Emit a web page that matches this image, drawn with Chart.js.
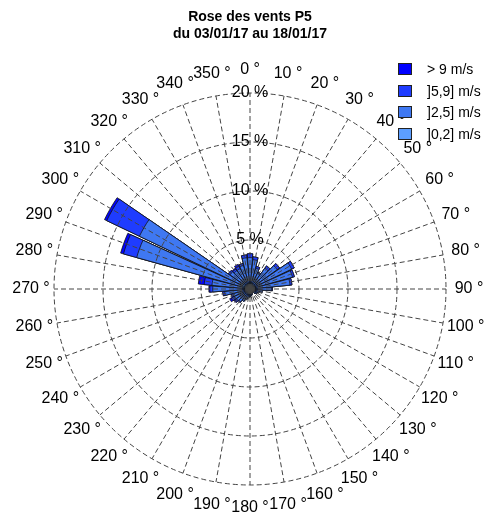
<!DOCTYPE html>
<html>
<head>
<meta charset="utf-8">
<script src="https://cdn.jsdelivr.net/npm/chart.js@4.4.1/dist/chart.umd.min.js"></script>
<style>
  html, body { margin: 0; padding: 0; background: #fff; }
  #wrap { position: relative; width: 490px; height: 515px; font-family: "Liberation Sans", Arial, sans-serif; }
  #rose { position: absolute; left: 0; top: 0; }
  .title { position: absolute; left: 5px; top: 8px; width: 490px; text-align: center; font-weight: bold; font-size: 14px; line-height: 17px; }
  .leg { position: absolute; left: 398px; height: 14px; font-size: 14px; line-height: 14px; white-space: nowrap; }
  .leg span.box { position: absolute; left: 0; top: 1px; width: 14px; height: 12px; box-sizing: border-box; border: 1px solid #222; }
  .leg span.txt { position: absolute; left: 29px; top: 0; }
</style>
</head>
<body>
<div id="wrap">
  <canvas id="rose" width="490" height="515"></canvas>
  <div class="title">Rose des vents P5<br>du 03/01/17 au 18/01/17</div>
  <div id="legend"></div>
</div>
<script>
(() => {
  'use strict';

  // directions (degrees) and their labels
  const directions = [0, 10, 20, 30, 40, 50, 60, 70, 80, 90, 100, 110, 120, 130, 140, 150, 160, 170,
    180, 190, 200, 210, 220, 230, 240, 250, 260, 270, 280, 290, 300, 310, 320, 330, 340, 350];
  const dirLabels = directions.map(d => d + ' °');

  // frequency (%) per direction for each speed class
  const v0to2 = [0.6, 0.6, 0.6, 0.5, 0.5, 0.5, 0.5, 0.5, 0.5, 0.4, 0.4, 0.4, 0.3, 0.3, 0.3, 0.3, 0.3, 0.3,
    0.3, 0.3, 0.3, 0.4, 0.4, 0.4, 0.4, 0.4, 0.4, 0.5, 0.5, 0.8, 1.0, 0.5, 0.5, 0.5, 0.5, 0.6];
  const v2to5 = [2.6, 2.4, 1.6, 1.3, 2.1, 2.9, 4.2, 4.0, 3.6, 1.8, 0.9, 0.6, 0.5, 0.4, 0.2, 0.2, 0.3, 0.4,
    0.5, 0.6, 0.8, 1.0, 1.2, 1.3, 1.4, 1.4, 2.2, 3.3, 3.4, 11.2, 11.5, 2.0, 1.8, 1.8, 2.0, 2.6];
  const v5to9 = [0.4, 0.3, 0.2, 0.1, 0.3, 0.3, 0.3, 0.2, 0.2, 0.1, 0, 0, 0, 0, 0, 0, 0, 0,
    0, 0, 0, 0, 0.1, 0.2, 0.3, 0.2, 0.2, 0.3, 0.8, 1.4, 3.7, 0.2, 0.2, 0.3, 0.2, 0.3];
  const vOver9 = [0, 0, 0, 0, 0, 0, 0, 0, 0, 0, 0, 0, 0, 0, 0, 0, 0, 0,
    0, 0, 0, 0, 0, 0.1, 0.2, 0, 0, 0.1, 0.6, 0.3, 0.25, 0, 0.1, 0.2, 0, 0];

  const classNames = ['> 9 m/s', ']5,9] m/s', ']2,5] m/s', ']0,2] m/s'];
  const classColors = ['#0000ff', '#1f3cff', '#3f78f2', '#5c9eff'];
  const pctTicks = [5, 10, 15, 20];

  const barWidth = 9; // degrees of each sector bar
  const gapWidth = 10 - barWidth;

  // stacked: cumulative totals, smallest first so it is drawn on top
  const cum1 = v0to2.slice();
  const cum2 = cum1.map((v, i) => v + v2to5[i]);
  const cum3 = cum2.map((v, i) => v + v5to9[i]);
  const cum4 = cum3.map((v, i) => v + vOver9[i]);

  // one lead gap, then bar / gap / bar ... so each bar is centred on its direction
  function withGaps(values) {
    const out = [0];
    values.forEach((v, i) => {
      if (i > 0) out.push(0);
      out.push(v);
    });
    return out;
  }
  const sectorAngle = (ctx) => {
    if (ctx.dataIndex === 0) return 360 - barWidth / 2;
    return ctx.dataIndex % 2 ? barWidth : gapWidth;
  };

  function layer(values, color) {
    return {
      data: withGaps(values),
      angle: sectorAngle,
      backgroundColor: (ctx) => ctx.dataIndex % 2 ? color : 'rgba(0,0,0,0)',
      borderColor: '#111',
      borderWidth: (ctx) => ctx.dataIndex % 2 ? 0.8 : 0
    };
  }

  // legend
  const legend = document.getElementById('legend');
  classNames.forEach((name, i) => {
    const row = document.createElement('div');
    row.className = 'leg';
    row.style.top = (62 + i * 21.5) + 'px';
    row.innerHTML = '<span class="box" style="background:' + classColors[i] + '"></span><span class="txt">' + name + '</span>';
    legend.appendChild(row);
  });

  const degreeLabels = {
    id: 'degreeLabels',
    afterDraw(chart) {
      const r = chart.scales.r;
      const c = chart.ctx;
      c.save();
      c.font = '16px "Liberation Sans", Arial, sans-serif';
      c.fillStyle = '#000';
      c.textAlign = 'center';
      c.textBaseline = 'middle';
      dirLabels.forEach((lab, i) => {
        const p = r.getPointPosition(i, r.drawingArea + 23);
        c.fillText(lab, p.x, p.y);
      });
      c.restore();
    }
  };

  const ctx = document.getElementById('rose');
  new Chart(ctx, {
    type: 'polarArea',
    data: {
      labels: dirLabels,
      datasets: [
        layer(cum1, classColors[3]),
        layer(cum2, classColors[2]),
        layer(cum3, classColors[1]),
        layer(cum4, classColors[0])
      ]
    },
    options: {
      responsive: false,
      animation: false,
      layout: { padding: { left: 46, right: 36, top: 85, bottom: 22 } },
      plugins: {
        legend: { display: false },
        title: { display: false },
        tooltip: { enabled: false }
      },
      scales: {
        r: {
          min: 0,
          max: 20,
          startAngle: 0,
          afterBuildTicks: (axis) => {
            axis.ticks = [0].concat(pctTicks).map(v => ({ value: v }));
          },
          grid: { circular: true, color: '#444', lineWidth: 1, z: 1 },
          border: { dash: [5, 3] },
          angleLines: { display: true, color: '#444', lineWidth: 1, borderDash: [5, 3] },
          pointLabels: { display: false },
          ticks: {
            z: 1,
            color: '#000',
            showLabelBackdrop: false,
            backdropPadding: 0,
            font: { size: 16, family: '"Liberation Sans", Arial, sans-serif' },
            callback: (v) => v + ' %'
          }
        }
      }
    },
    plugins: [degreeLabels]
  });
})();
</script>
</body>
</html>
